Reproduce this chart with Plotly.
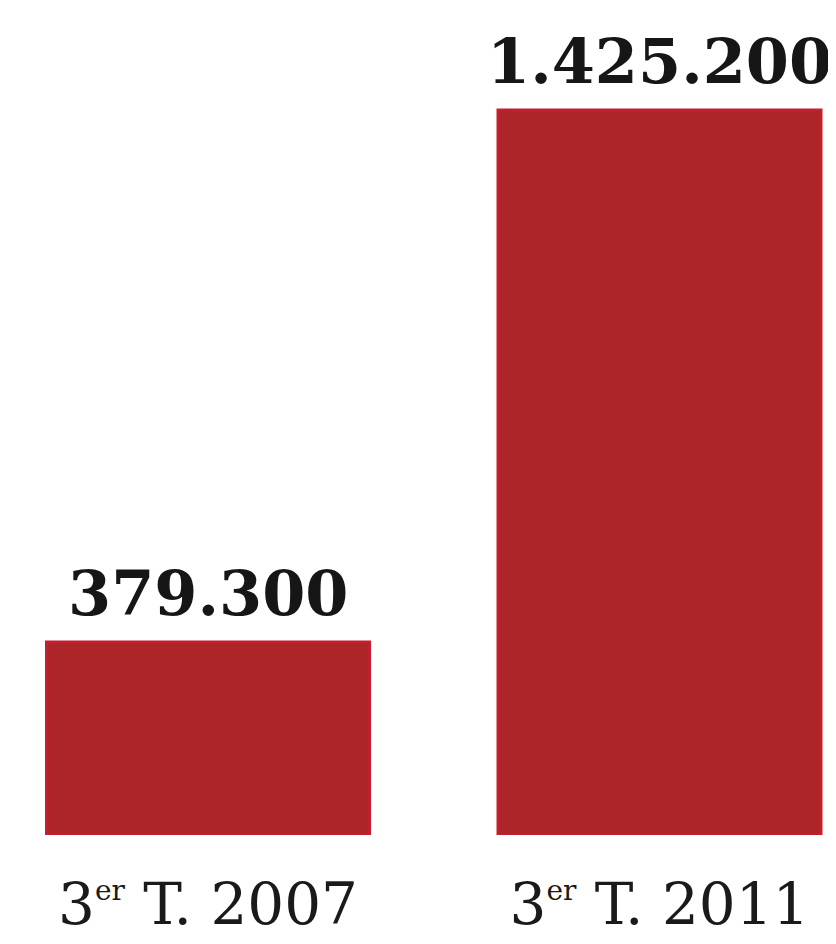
import plotly.graph_objects as go

categories = ['3<sup><span style="font-size:28px">er</span></sup> T. 2007',
              '3<sup><span style="font-size:28px">er</span></sup> T. 2011']
values = [379300, 1425200]

positions = list(range(len(categories)))
labels = [f"{v:,}".replace(",", ".") for v in values]

fig = go.Figure()
fig.add_trace(go.Bar(
    x=positions, y=values, width=0.7154,
    marker=dict(color="#AD2429", line=dict(color="#C21F30", width=3)),
    hoverinfo="skip",
))

for p, v, t in zip(positions, values, labels):
    fig.add_annotation(x=p, y=v, text=f"<b>{t}</b>", showarrow=False,
                       yanchor="bottom", yshift=10,
                       font=dict(family="DejaVu Serif", size=62, color="#161616"))

fig.update_layout(
    width=828, height=936,
    margin=dict(l=0, r=0, t=0, b=109),
    paper_bgcolor="white", plot_bgcolor="white",
    showlegend=False,
    xaxis=dict(range=[-0.443, 1.3909], tickvals=positions, ticktext=categories,
               showgrid=False, zeroline=False, showline=False, ticks="",
               ticklabelstandoff=30,
               tickfont=dict(family="DejaVu Serif", size=58, color="#1a1a1a")),
    yaxis=dict(range=[0, max(values) * 827 / 725], visible=False,
               showgrid=False, zeroline=False),
)
fig.write_html("out.html")
